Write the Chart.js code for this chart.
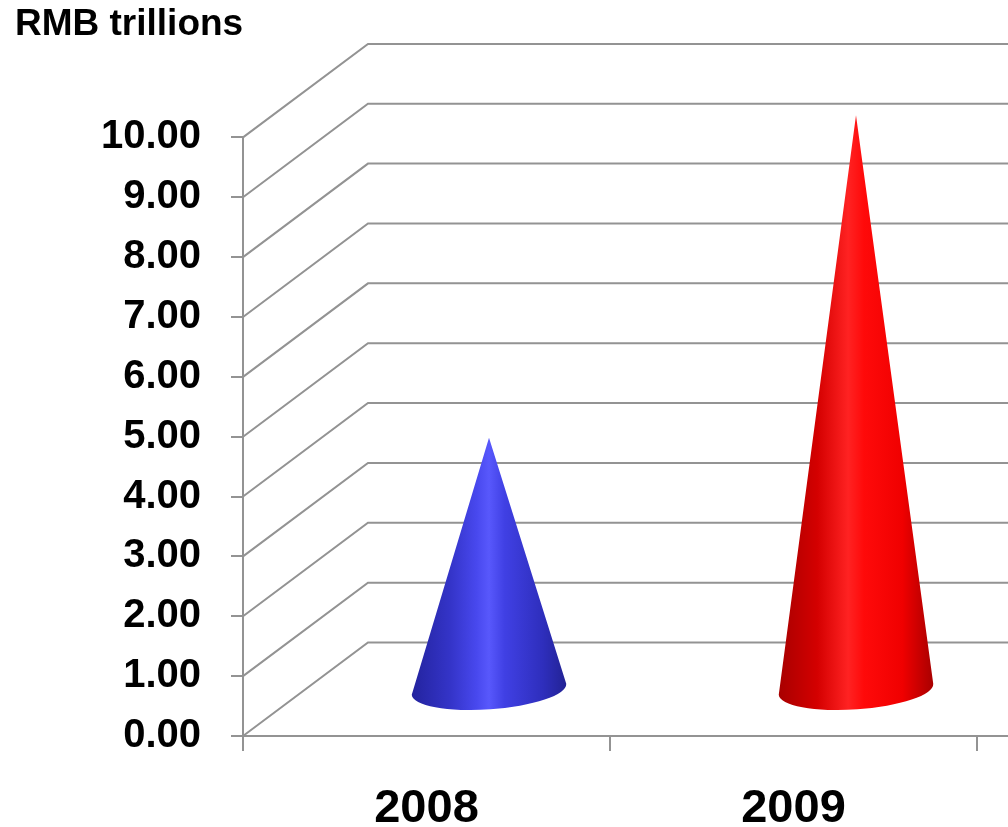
<!DOCTYPE html>
<html>
<head>
<meta charset="utf-8">
<script src="https://cdn.jsdelivr.net/npm/chart.js@4.4.1/dist/chart.umd.min.js"></script>
<style>
  html, body { margin: 0; padding: 0; background: #fff; }
  #wrap { width: 1008px; height: 827px; }
</style>
</head>
<body>
<div id="wrap"><canvas id="chart" width="1008" height="827"></canvas></div>
<script>
/* ---------- Data ---------- */

const years = ["2008", "2009"];
const loans = [4.2, 9.59];
const coneColors = ["blue", "red"];
const yMin = 0;
const yMax = 10;
const yStep = 1;

/* ---------- Style ---------- */

const FONT = "'Liberation Sans', Arial, sans-serif";
const GRID = "#939393";
const DEPTH_X = 125;
const DEPTH_Y = 93.5;

const shades = {
    blue: [[0, "#23239e"], [0.25, "#3434c8"], [0.42, "#4848ee"], [0.5, "#5858fc"], [0.6, "#4040e4"], [0.85, "#2e2ebc"], [1, "#222294"]],
    red: [[0, "#a80000"], [0.25, "#d40000"], [0.45, "#ff2222"], [0.55, "#ff0a0a"], [0.8, "#f00000"], [1, "#a80000"]]
};

/* ---------- 3D grid ---------- */

const wallGrid = {
    id: "wallGrid",
    beforeDatasetsDraw(chart) {
        const ctx = chart.ctx;
        const y = chart.scales.y;
        const x = chart.scales.x;
        const left = chart.chartArea.left;
        ctx.save();
        ctx.strokeStyle = GRID;
        ctx.lineWidth = 2;
        ctx.beginPath();
        y.ticks.forEach(t => {
            const py = y.getPixelForValue(t.value);
            ctx.moveTo(left, py);
            ctx.lineTo(left + DEPTH_X, py - DEPTH_Y);
            ctx.lineTo(chart.width, py - DEPTH_Y);
        });
        // front floor edge runs past the last category
        const base = y.getPixelForValue(0);
        ctx.moveTo(x.right, base);
        ctx.lineTo(chart.width, base);
        ctx.stroke();
        ctx.restore();
    }
};

/* ---------- Cones ---------- */

const TILT = -0.07;

const cones = {
    id: "cones",
    afterDatasetsDraw(chart) {
        const ctx = chart.ctx;
        const meta = chart.getDatasetMeta(0);
        meta.data.forEach((bar, i) => {
            const cx = bar.x + DEPTH_X / 2;
            const tip = bar.y - DEPTH_Y / 2;
            const by = bar.base - DEPTH_Y / 2 + 1;
            const r = bar.width / 2;
            const ry = r * 0.26;

            const g = ctx.createLinearGradient(cx - r, 0, cx + r, 0);
            shades[coneColors[i]].forEach(s => g.addColorStop(s[0], s[1]));

            ctx.save();
            ctx.beginPath();
            ctx.moveTo(cx, tip);
            ctx.lineTo(cx + r * Math.cos(TILT), by + r * Math.sin(TILT));
            ctx.ellipse(cx, by, r, ry, TILT, 0, Math.PI, false);
            ctx.closePath();
            ctx.fillStyle = g;
            ctx.fill();
            ctx.restore();
        });
    }
};

/* ---------- Chart ---------- */

new Chart(document.getElementById("chart"), {
    type: "bar",
    data: {
        labels: years,
        datasets: [{
            data: loans,
            backgroundColor: "rgba(0,0,0,0)",
            borderWidth: 0,
            categoryPercentage: 1,
            barPercentage: 0.422
        }]
    },
    options: {
        responsive: false,
        animation: false,
        layout: { padding: { left: 15, right: 31, top: 0, bottom: 0 } },
        plugins: {
            legend: { display: false },
            tooltip: { enabled: false },
            title: {
                display: true,
                text: "RMB trillions",
                align: "start",
                color: "#000",
                font: { family: FONT, size: 37, weight: "bold" },
                padding: { top: 3, bottom: 90 }
            }
        },
        scales: {
            x: {
                offset: true,
                grid: {
                    display: true,
                    offset: true,
                    drawOnChartArea: false,
                    drawTicks: true,
                    tickLength: 15,
                    color: GRID,
                    lineWidth: 2
                },
                border: { display: true, color: GRID, width: 2 },
                ticks: {
                    color: "#000",
                    padding: 30,
                    font: { family: FONT, size: 47, weight: "bold" }
                },
                afterFit(s) { s.height = 91; }
            },
            y: {
                min: yMin,
                max: yMax,
                grid: {
                    display: true,
                    drawOnChartArea: false,
                    drawTicks: true,
                    tickLength: 12,
                    color: GRID,
                    lineWidth: 2
                },
                border: { display: true, color: GRID, width: 2 },
                ticks: {
                    stepSize: yStep,
                    color: "#000",
                    padding: 30,
                    font: { family: FONT, size: 40, weight: "bold" },
                    callback: v => Number(v).toFixed(2)
                },
                afterFit(s) { s.width = 228; }
            }
        }
    },
    plugins: [wallGrid, cones]
});
</script>
</body>
</html>
